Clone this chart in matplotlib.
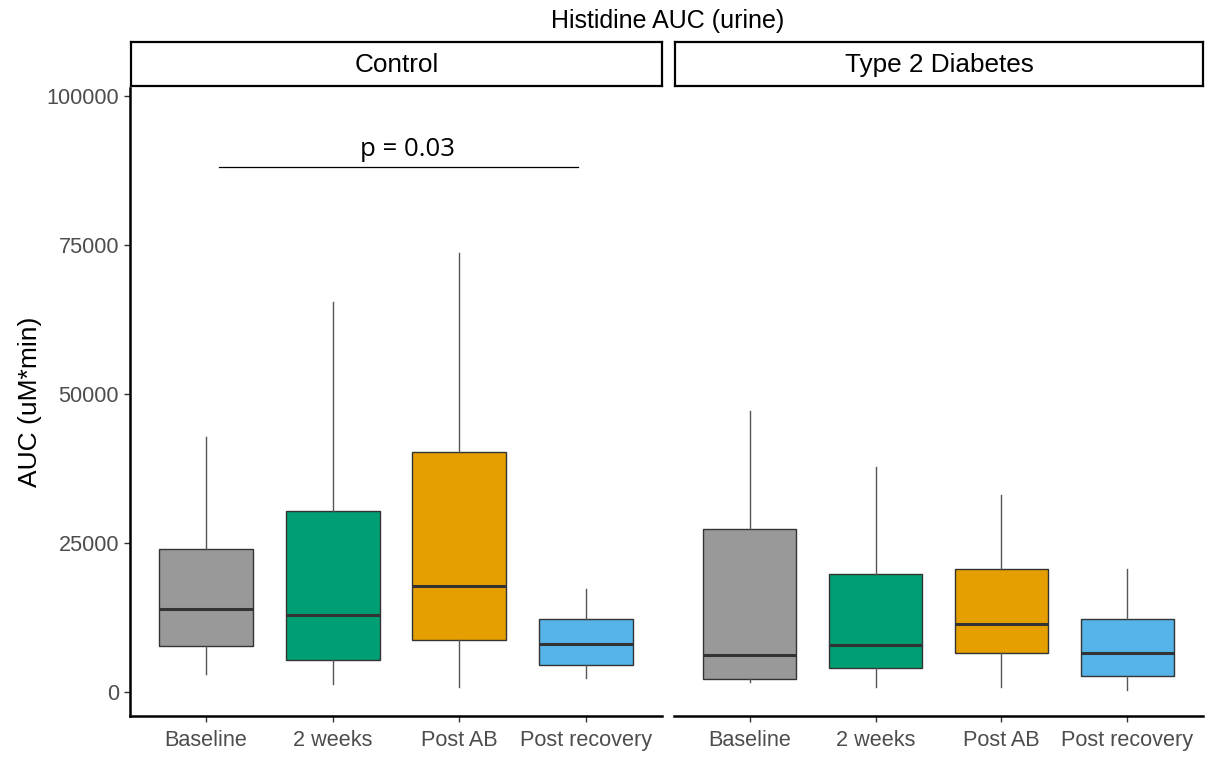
import numpy as np
import matplotlib
matplotlib.use("Agg")
import matplotlib.pyplot as plt

plt.rcParams['font.family'] = ['Liberation Sans', 'DejaVu Sans']

groups = ["Control", "Type 2 Diabetes"]
timepoints = ["Baseline", "2 weeks", "Post AB", "Post recovery"]
colors = ["#999999", "#009E73", "#E69F00", "#56B4E9"]

# box statistics (uM*min)
ctrl_whislo = [3000, 1300, 800, 2300]
ctrl_q1 = [7700, 5400, 8700, 4500]
ctrl_med = [13900, 12900, 17800, 8050]
ctrl_q3 = [24000, 30300, 40200, 12200]
ctrl_whishi = [42800, 65400, 73600, 17300]

t2d_whislo = [1700, 800, 800, 300]
t2d_q1 = [2200, 4000, 6500, 2700]
t2d_med = [6200, 7900, 11400, 6500]
t2d_q3 = [27300, 19800, 20600, 12200]
t2d_whishi = [47100, 37700, 33000, 20600]

yticks = [0, 25000, 50000, 75000, 100000]

# significance bracket (control panel)
p_label = "p = 0.03"
p_y = 88000
p_x = [0.1, 2.94]

stats_by_group = {
    "Control": (ctrl_whislo, ctrl_q1, ctrl_med, ctrl_q3, ctrl_whishi),
    "Type 2 Diabetes": (t2d_whislo, t2d_q1, t2d_med, t2d_q3, t2d_whishi),
}

fig = plt.figure(figsize=(12.1, 7.58), dpi=100)

panel_x = [130 / 1210, 674 / 1210]
panel_w = [532 / 1210, 529 / 1210]
ax_bottom = 1 - 716 / 758
ax_height = (716 - 88) / 758
strip_bottom = 1 - 86 / 758
strip_height = 44 / 758

axes = []
for i, g in enumerate(groups):
    ax = fig.add_axes([panel_x[i], ax_bottom, panel_w[i], ax_height])
    axes.append(ax)
    wl, q1, med, q3, wh = stats_by_group[g]
    bstats = []
    for k in range(len(timepoints)):
        bstats.append({"whislo": wl[k], "q1": q1[k], "med": med[k],
                       "q3": q3[k], "whishi": wh[k], "label": timepoints[k]})
    bp = ax.bxp(bstats, positions=range(len(timepoints)), widths=0.74,
                showcaps=False, showfliers=False, patch_artist=True,
                boxprops=dict(edgecolor="#333333", linewidth=1.0),
                whiskerprops=dict(color="#555555", linewidth=1.0),
                medianprops=dict(color="#333333", linewidth=2.2))
    for patch, c in zip(bp["boxes"], colors):
        patch.set_facecolor(c)

    ax.set_xlim(-0.6, 3.6)
    ax.set_ylim(-4000, 101260)
    ax.set_xticks(range(len(timepoints)))
    ax.set_xticklabels(timepoints, fontsize=15.6, color="#4D4D4D")
    ax.tick_params(axis="x", length=4, width=1, color="#333333", pad=6)
    for s in ["top", "right"]:
        ax.spines[s].set_visible(False)
    ax.spines["bottom"].set_linewidth(1.8)
    ax.spines["left"].set_linewidth(1.8)
    if i == 0:
        ax.set_yticks(yticks)
        ax.set_yticklabels([str(t) for t in yticks], fontsize=15.6, color="#4D4D4D")
        ax.tick_params(axis="y", length=4, width=1, color="#333333", pad=4)
        ax.set_ylabel("AUC (uM*min)", fontsize=19)
        ax.yaxis.set_label_coords(-0.165, 0.5)
    else:
        ax.spines["left"].set_visible(False)
        ax.set_yticks([])

    # strip
    sax = fig.add_axes([panel_x[i] + 1 / 1210, strip_bottom, panel_w[i] - 1 / 1210, strip_height])
    sax.set_xticks([])
    sax.set_yticks([])
    for s in sax.spines.values():
        s.set_linewidth(1.6)
        s.set_color("black")
    sax.text(0.5, 0.47, g, ha="center", va="center", fontsize=18.8, transform=sax.transAxes)

axes[0].plot(p_x, [p_y, p_y], color="black", linewidth=0.9)
axes[0].text(np.mean(p_x) + 0.07, p_y + 800, p_label, ha="center", va="bottom",
             fontsize=18.5, family=["Open Sans", "DejaVu Sans"])

fig.text(668 / 1210, 1 - 21 / 758, "Histidine AUC (urine)", ha="center", va="center", fontsize=18)

fig.savefig("out.png", dpi=100)
